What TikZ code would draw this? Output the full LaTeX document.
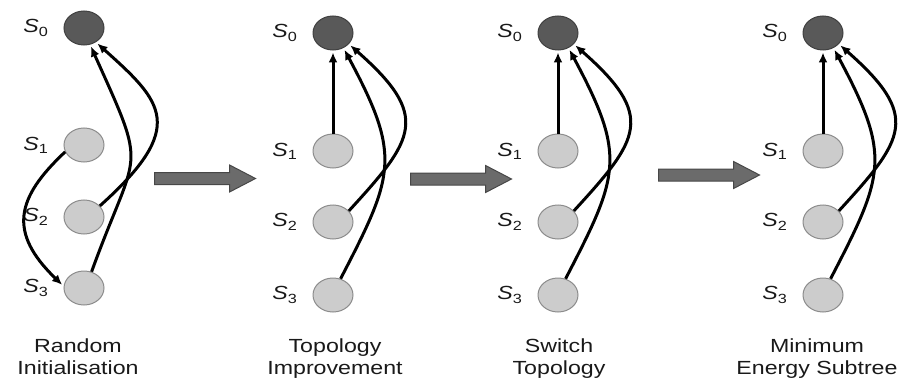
\documentclass[tikz,border=0pt]{standalone}
\usepackage{fontspec}
\setmainfont[FakeStretch=1.22]{Liberation Sans}
\usepackage{tikz}
\usetikzlibrary{%
  positioning
 ,arrows.meta
 ,shapes
}
\tikzstyle{st}=[ellipse,draw=black!45,fill=black!20,line width=1pt,minimum width=40pt,minimum height=34pt,inner sep=0pt]
\tikzstyle{root}=[st,draw=black!75,fill=black!65]
\tikzstyle{lab}=[inner sep=0pt,text=black!90]
\tikzstyle{caption}=[align=center,anchor=north,inner sep=0pt,text=black!90]
\tikzstyle{bigarrow}=[single arrow,anchor=tail,draw=black!72,fill=black!58,line width=1pt,minimum height=101pt,minimum width=26pt,single arrow head extend=7.5pt,single arrow tip angle=55,inner xsep=0pt,inner ysep=5.5pt]
\tikzstyle{conn}=[line width=3pt,-{Latex[length=10pt,width=9pt]},shorten >=2pt]

\begin{document}
\begin{tikzpicture}[x=1pt,y=-1pt,font=\fontsize{19}{22}\selectfont]
  \useasboundingbox (0,0) rectangle (901,385);
  % random initialisation
  \node[root](a0) at (84,28){};
  \node[st](a1) at (84,145){};\node[st](a2) at (84,217){};\node[st](a3) at (84,288){};
  \node[lab,left=15pt of a0](la0){\textit{S}\textsubscript{0}};
  \node[lab,left=15pt of a1](la1){\textit{S}\textsubscript{1}};
  \node[lab,left=15pt of a2](la2){\textit{S}\textsubscript{2}};
  \node[lab,left=15pt of a3](la3){\textit{S}\textsubscript{3}};
  \draw[conn] (a1.200) .. controls +(-49,46) and +(-56,-54) .. (a3.175);
  \draw[conn] (a2.35) .. controls +(88,-79) and +(67,60) .. (a0.-50);
  \draw[conn] (a3.65) .. controls +(46,-127) and +(59,131) .. (a0.-70);
  \node[caption](ca) at (78,339){Random\\Initialisation};
  \node[bigarrow](ar1) at (154,178.5){};
  %%%%%%%
  % topology improvement
  \node[root](b0) at (333,33){};
  \node[st](b1) at (333,151){};\node[st](b2) at (333,222){};\node[st](b3) at (333,295){};
  \node[lab,left=15pt of b0](lb0){\textit{S}\textsubscript{0}};
  \node[lab,left=15pt of b1](lb1){\textit{S}\textsubscript{1}};
  \node[lab,left=15pt of b2](lb2){\textit{S}\textsubscript{2}};
  \node[lab,left=15pt of b3](lb3){\textit{S}\textsubscript{3}};
  \draw[conn] (b1) -- (b0);
  \draw[conn] (b2.35) .. controls +(66,-72) and +(82,72) .. (b0.-35);
  \draw[conn] (b3.65) .. controls +(54,-104) and +(58,108) .. (b0.-55);
  \node[caption](cb) at (335,339){Topology\\Improvement};
  \node[bigarrow](ar2) at (410,179){};
  %%%%%%%
  % switch topology
  \node[root](c0) at (558,33){};
  \node[st](c1) at (558,151){};\node[st](c2) at (558,222){};\node[st](c3) at (558,295){};
  \node[lab,left=15pt of c0](lc0){\textit{S}\textsubscript{0}};
  \node[lab,left=15pt of c1](lc1){\textit{S}\textsubscript{1}};
  \node[lab,left=15pt of c2](lc2){\textit{S}\textsubscript{2}};
  \node[lab,left=15pt of c3](lc3){\textit{S}\textsubscript{3}};
  \draw[conn] (c1) -- (c0);
  \draw[conn] (c2.35) .. controls +(66,-72) and +(82,72) .. (c0.-35);
  \draw[conn] (c3.65) .. controls +(54,-104) and +(58,108) .. (c0.-55);
  \node[caption](cc) at (559,339){Switch\\Topology};
  \node[bigarrow](ar3) at (658,175){};
  %%%%%%%
  % minimum energy subtree
  \node[root](d0) at (823,33){};
  \node[st](d1) at (823,151){};\node[st](d2) at (823,222){};\node[st](d3) at (823,295){};
  \node[lab,left=15pt of d0](ld0){\textit{S}\textsubscript{0}};
  \node[lab,left=15pt of d1](ld1){\textit{S}\textsubscript{1}};
  \node[lab,left=15pt of d2](ld2){\textit{S}\textsubscript{2}};
  \node[lab,left=15pt of d3](ld3){\textit{S}\textsubscript{3}};
  \draw[conn] (d1) -- (d0);
  \draw[conn] (d2.35) .. controls +(66,-72) and +(82,72) .. (d0.-35);
  \draw[conn] (d3.65) .. controls +(54,-104) and +(58,108) .. (d0.-55);
  \node[caption](cd) at (817,339){Minimum\\Energy Subtree};
\end{tikzpicture}
\end{document}
